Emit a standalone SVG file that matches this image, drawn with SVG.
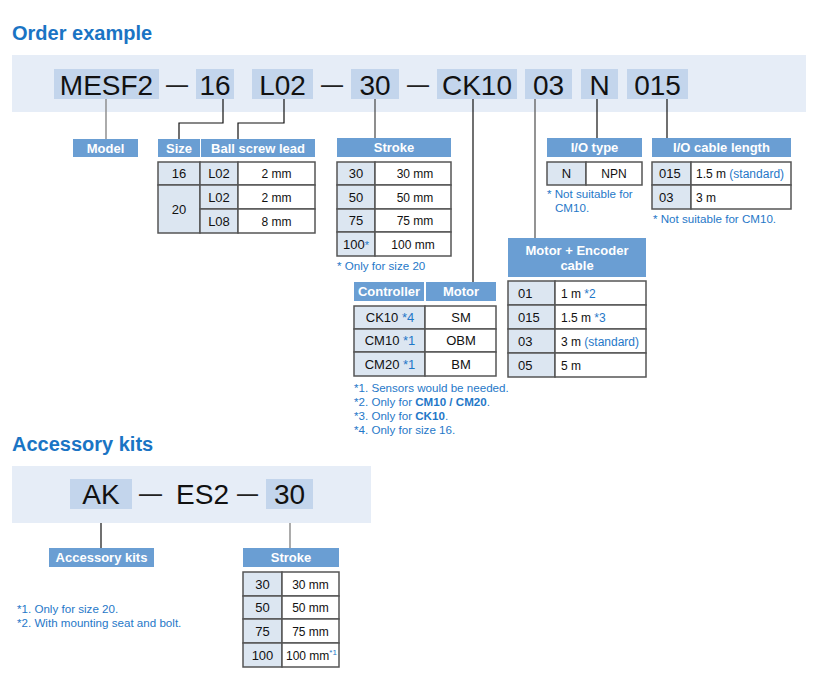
<svg xmlns="http://www.w3.org/2000/svg" width="815" height="682" viewBox="0 0 815 682">
<style>
text{font-family:"Liberation Sans",Arial,sans-serif}
.title{font-size:20px;font-weight:bold;fill:#1a74c4}
.banner{fill:#e6edf7}
.cb{fill:#c3d5ec}
.code{font-size:28px;fill:#111;text-anchor:middle}
.dash{font-size:28px;fill:#222}
.hdr{fill:#6a9ed3}
.ht{font-size:13px;font-weight:bold;fill:#fff;text-anchor:middle}
.c1{fill:#dce6f1;stroke:#555;stroke-width:1.5}
.c2{fill:#fff;stroke:#555;stroke-width:1.5}
.k{font-size:13px;fill:#111}
.v{font-size:12px;fill:#111}
.m{text-anchor:middle}
.b{fill:#1f78c8}
.note{font-size:11.6px;fill:#1f78c8}
.sup{font-size:8px}
.ln{fill:none;stroke:#111;stroke-width:1.2}
.lg{fill:none;stroke:#888;stroke-width:1.4}
</style>

<text class="title" x="12" y="40">Order example</text>
<rect class="banner" x="12" y="55" width="794" height="57"/>
<g id="codes">
<rect class="cb" x="54" y="69" width="105" height="30"/>
<rect class="cb" x="196" y="69" width="38" height="30"/>
<rect class="cb" x="252" y="69" width="61" height="30"/>
<rect class="cb" x="351" y="69" width="48" height="30"/>
<rect class="cb" x="437" y="69" width="80" height="30"/>
<rect class="cb" x="525" y="69" width="47" height="30"/>
<rect class="cb" x="581" y="69" width="37" height="30"/>
<rect class="cb" x="627" y="69" width="61" height="30"/>
<text class="code" x="106.5" y="95">MESF2</text>
<text class="code" x="215" y="95">16</text>
<text class="code" x="282.5" y="95">L02</text>
<text class="code" x="375" y="95">30</text>
<text class="code" x="477" y="95">CK10</text>
<text class="code" x="548.5" y="95">03</text>
<text class="code" x="599.5" y="95">N</text>
<text class="code" x="657.5" y="95">015</text>
<text class="dash" x="166" y="93" textLength="22" lengthAdjust="spacingAndGlyphs">—</text>
<text class="dash" x="321" y="93" textLength="22" lengthAdjust="spacingAndGlyphs">—</text>
<text class="dash" x="407" y="93" textLength="22" lengthAdjust="spacingAndGlyphs">—</text>
</g>

<g id="connectors">
<path class="lg" d="M106,99V139"/>
<path class="ln" d="M223,99V123H179V139"/>
<path class="ln" d="M284,99V123H238V139"/>
<path class="ln" d="M375,99V138" style="stroke:#444"/>
<path class="ln" d="M473,99V282"/>
<path class="lg" d="M535,99V238" style="stroke:#666"/>
<path class="ln" d="M597,99V138"/>
<path class="ln" d="M667,99V138"/>
<path class="ln" d="M101,509V548"/>
<path class="lg" d="M290,509V548"/>
</g>

<g id="model">
<rect class="hdr" x="73" y="139" width="65" height="18"/>
<text class="ht" x="105.5" y="153">Model</text>
</g>

<g id="size-lead">
<rect class="hdr" x="158" y="139" width="42" height="18"/>
<rect class="hdr" x="201" y="139" width="114" height="18"/>
<text class="ht" x="179" y="153">Size</text>
<text class="ht" x="258" y="153">Ball screw lead</text>
<rect class="c1" x="158" y="162" width="42" height="23"/>
<rect class="c1" x="200" y="162" width="38" height="23"/>
<rect class="c2" x="238" y="162" width="77" height="23"/>
<rect class="c1" x="158" y="185" width="42" height="48"/>
<rect class="c1" x="200" y="185" width="38" height="24"/>
<rect class="c2" x="238" y="185" width="77" height="24"/>
<rect class="c1" x="200" y="209" width="38" height="24"/>
<rect class="c2" x="238" y="209" width="77" height="24"/>
<text class="k m" x="179" y="178">16</text>
<text class="k m" x="219" y="178">L02</text>
<text class="v m" x="276.5" y="178">2 mm</text>
<text class="k m" x="179" y="214">20</text>
<text class="k m" x="219" y="202">L02</text>
<text class="v m" x="276.5" y="202">2 mm</text>
<text class="k m" x="219" y="226">L08</text>
<text class="v m" x="276.5" y="226">8 mm</text>
</g>

<g id="stroke">
<rect class="hdr" x="337" y="138" width="114" height="19"/>
<text class="ht" x="394" y="152">Stroke</text>
<rect class="c1" x="337" y="162" width="38" height="23"/>
<rect class="c2" x="375" y="162" width="76" height="23"/>
<rect class="c1" x="337" y="185" width="38" height="24"/>
<rect class="c2" x="375" y="185" width="76" height="24"/>
<rect class="c1" x="337" y="209" width="38" height="23"/>
<rect class="c2" x="375" y="209" width="76" height="23"/>
<rect class="c1" x="337" y="232" width="38" height="24"/>
<rect class="c2" x="375" y="232" width="76" height="24"/>
<text class="k m" x="356" y="178">30</text>
<text class="v m" x="415" y="178">30 mm</text>
<text class="k m" x="356" y="202">50</text>
<text class="v m" x="415" y="202">50 mm</text>
<text class="k m" x="356" y="225">75</text>
<text class="v m" x="415" y="225">75 mm</text>
<text class="k m" x="356" y="249">100<tspan class="b" font-size="11">*</tspan></text>
<text class="v m" x="413" y="249">100 mm</text>
<text class="note" x="337" y="270">* Only for size 20</text>
</g>

<g id="io-type">
<rect class="hdr" x="547" y="138" width="95" height="19"/>
<text class="ht" x="594.5" y="152">I/O type</text>
<rect class="c1" x="547" y="162" width="39" height="23"/>
<rect class="c2" x="586" y="162" width="56" height="23"/>
<text class="k m" x="566.5" y="178">N</text>
<text class="v m" x="614" y="178">NPN</text>
<text class="note" x="547" y="198">* Not suitable for</text>
<text class="note" x="555" y="212">CM10.</text>
</g>

<g id="io-cable">
<rect class="hdr" x="652" y="138" width="139" height="19"/>
<text class="ht" x="721.5" y="152">I/O cable length</text>
<rect class="c1" x="652" y="162" width="39" height="23"/>
<rect class="c2" x="691" y="162" width="100" height="23"/>
<rect class="c1" x="652" y="185" width="39" height="24"/>
<rect class="c2" x="691" y="185" width="100" height="24"/>
<text class="k" x="659" y="178">015</text>
<text class="v" x="696" y="178">1.5 m <tspan class="b">(standard)</tspan></text>
<text class="k" x="659" y="202">03</text>
<text class="v" x="696" y="202">3 m</text>
<text class="note" x="653" y="223">* Not suitable for CM10.</text>
</g>

<g id="motor-cable">
<rect class="hdr" x="508" y="238" width="138" height="39"/>
<text class="ht" x="577" y="255">Motor + Encoder</text>
<text class="ht" x="577" y="270">cable</text>
<rect class="c1" x="508" y="281" width="47" height="24"/>
<rect class="c2" x="555" y="281" width="91" height="24"/>
<rect class="c1" x="508" y="305" width="47" height="24"/>
<rect class="c2" x="555" y="305" width="91" height="24"/>
<rect class="c1" x="508" y="329" width="47" height="24"/>
<rect class="c2" x="555" y="329" width="91" height="24"/>
<rect class="c1" x="508" y="353" width="47" height="24"/>
<rect class="c2" x="555" y="353" width="91" height="24"/>
<text class="k" x="518" y="298">01</text>
<text class="v" x="561" y="298">1 m <tspan class="b">*2</tspan></text>
<text class="k" x="518" y="322">015</text>
<text class="v" x="561" y="322">1.5 m <tspan class="b">*3</tspan></text>
<text class="k" x="518" y="346">03</text>
<text class="v" x="561" y="346">3 m <tspan class="b">(standard)</tspan></text>
<text class="k" x="518" y="370">05</text>
<text class="v" x="561" y="370">5 m</text>
</g>

<g id="controller-motor">
<rect class="hdr" x="354" y="282" width="70" height="19"/>
<rect class="hdr" x="426" y="282" width="70" height="19"/>
<text class="ht" x="389" y="296">Controller</text>
<text class="ht" x="461" y="296">Motor</text>
<rect class="c1" x="354" y="306" width="71" height="23"/>
<rect class="c2" x="425" y="306" width="71" height="23"/>
<rect class="c1" x="354" y="329" width="71" height="23"/>
<rect class="c2" x="425" y="329" width="71" height="23"/>
<rect class="c1" x="354" y="352" width="71" height="24"/>
<rect class="c2" x="425" y="352" width="71" height="24"/>
<text class="k m" x="390" y="322">CK10 <tspan class="b">*4</tspan></text>
<text class="k m" x="461" y="322">SM</text>
<text class="k m" x="390" y="345">CM10 <tspan class="b">*1</tspan></text>
<text class="k m" x="461" y="345">OBM</text>
<text class="k m" x="390" y="369">CM20 <tspan class="b">*1</tspan></text>
<text class="k m" x="461" y="369">BM</text>
<text class="note" x="354" y="392">*1. Sensors would be needed.</text>
<text class="note" x="354" y="406">*2. Only for <tspan font-weight="bold">CM10 / CM20</tspan>.</text>
<text class="note" x="354" y="420">*3. Only for <tspan font-weight="bold">CK10</tspan>.</text>
<text class="note" x="354" y="434">*4. Only for size 16.</text>
</g>

<text class="title" x="12" y="451">Accessory kits</text>
<rect class="banner" x="12" y="466" width="359" height="57"/>
<g id="acc-codes">
<rect class="cb" x="70" y="479" width="62" height="30"/>
<rect class="cb" x="266" y="479" width="47" height="30"/>
<text class="code" x="101" y="504">AK</text>
<text class="code" x="202.5" y="504">ES2</text>
<text class="code" x="289.5" y="504">30</text>
<text class="dash" x="139" y="502" textLength="23" lengthAdjust="spacingAndGlyphs">—</text>
<text class="dash" x="237" y="502" textLength="21" lengthAdjust="spacingAndGlyphs">—</text>
</g>

<g id="acc-kits">
<rect class="hdr" x="49" y="548" width="105" height="19"/>
<text class="ht" x="101.5" y="562">Accessory kits</text>
<text class="note" x="17" y="613">*1. Only for size 20.</text>
<text class="note" x="17" y="627">*2. With mounting seat and bolt.</text>
</g>

<g id="acc-stroke">
<rect class="hdr" x="243" y="548" width="96" height="19"/>
<text class="ht" x="291" y="562">Stroke</text>
<rect class="c1" x="243" y="572" width="39" height="24"/>
<rect class="c2" x="282" y="572" width="57" height="24"/>
<rect class="c1" x="243" y="596" width="39" height="23"/>
<rect class="c2" x="282" y="596" width="57" height="23"/>
<rect class="c1" x="243" y="619" width="39" height="24"/>
<rect class="c2" x="282" y="619" width="57" height="24"/>
<rect class="c1" x="243" y="643" width="39" height="24"/>
<rect class="c2" x="282" y="643" width="57" height="24"/>
<text class="k m" x="262.5" y="589">30</text>
<text class="v m" x="310.5" y="589">30 mm</text>
<text class="k m" x="262.5" y="612">50</text>
<text class="v m" x="310.5" y="612">50 mm</text>
<text class="k m" x="262.5" y="636">75</text>
<text class="k m" x="262.5" y="660">100</text>
<text class="v m" x="310.5" y="636">75 mm</text>
<text class="v" x="286" y="660">100 mm<tspan class="b sup" dy="-5">*1</tspan></text>
</g>
</svg>
